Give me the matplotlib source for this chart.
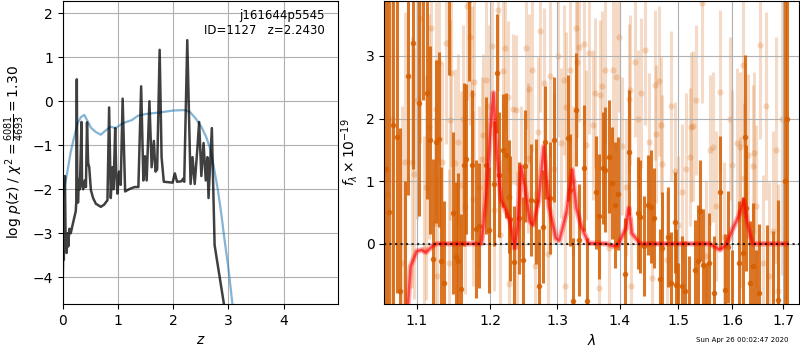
import numpy as np
import matplotlib
matplotlib.use("Agg")
import matplotlib.pyplot as plt

# ---- p(z) panel ----
z_fine = [0.0, 0.01, 0.02, 0.03, 0.04, 0.05, 0.06, 0.07, 0.09, 0.10, 0.12, 0.145, 0.19, 0.236,
          0.245, 0.255, 0.265, 0.28, 0.29, 0.31, 0.34, 0.35, 0.37, 0.40, 0.42, 0.44, 0.46, 0.48,
          0.51, 0.55, 0.60, 0.69, 0.75, 0.81, 0.84, 0.87, 0.90, 0.92, 0.95, 0.97, 0.99, 1.02,
          1.05, 1.085, 1.13, 1.20, 1.30, 1.37, 1.42, 1.46, 1.49, 1.52, 1.57, 1.61, 1.65, 1.68,
          1.71, 1.755, 1.79, 1.83, 1.99, 2.03, 2.07, 2.15, 2.18, 2.20, 2.255, 2.315, 2.35, 2.39,
          2.44, 2.47, 2.51, 2.55, 2.59, 2.62, 2.64, 2.70, 2.75, 2.93]
lnp_fine = [-4.1, -3.3, -3.6, -2.5, -1.7, -2.9, -3.4, -3.45, -3.0, -3.3, -2.9, -3.0, -2.75, -2.5,
            -2.3, 0.5, -2.3, -2.3, -1.77, -2.0, -0.47, -1.9, -2.0, -1.8, -1.95, -0.48, -1.4, -1.5,
            -2.02, -2.2, -2.33, -2.40, -2.35, -2.25, -0.14, -2.2, -1.5, -2.0, -0.61, -1.7, -2.1, -1.6,
            -1.9, 0.06, -2.05, -2.0, -1.95, -1.95, 0.34, -1.8, -1.25, -1.8, 0.0, -1.5, -0.9, -1.6,
            -1.55, 1.17, -1.27, -1.83, -1.85, -1.64, -1.83, -1.82, -1.76, -1.83, 1.39, -1.88, -1.27, -1.88,
            -1.04, -0.47, -1.7, -0.95, -1.8, -1.27, -2.2, -0.61, -3.27, -4.7]

z_prior = [0.0, 0.03, 0.085, 0.145, 0.2, 0.27, 0.33, 0.39, 0.45, 0.51, 0.6, 0.69, 0.78, 0.87,
           0.96, 1.05, 1.15, 1.25, 1.36, 1.5, 1.78, 2.0, 2.2, 2.3, 2.4, 2.51, 2.6, 2.66, 2.73,
           2.81, 2.87, 2.93, 3.0, 3.05, 3.08]
lnp_prior = [-2.3, -1.95, -1.6, -1.15, -0.85, -0.5, -0.36, -0.31, -0.45, -0.6, -0.7, -0.76, -0.66, -0.58,
             -0.61, -0.53, -0.47, -0.43, -0.33, -0.29, -0.25, -0.21, -0.2, -0.24, -0.38, -0.58, -0.82, -1.04, -1.45,
             -2.02, -2.55, -3.15, -3.8, -4.35, -4.7]

# ---- spectrum panel ----
wave_dark = [1.061, 1.065, 1.070, 1.075, 1.078, 1.085, 1.089, 1.095, 1.103, 1.108, 1.114, 1.118,
             1.122, 1.126, 1.130, 1.132, 1.136, 1.143, 1.149, 1.152, 1.155, 1.160, 1.1635, 1.166,
             1.170, 1.175, 1.180, 1.184, 1.195, 1.199, 1.206, 1.210, 1.213, 1.219, 1.223, 1.227,
             1.229, 1.235, 1.242, 1.248, 1.251, 1.260, 1.268, 1.272, 1.278, 1.281, 1.288, 1.294,
             1.316, 1.319, 1.3245, 1.329, 1.333, 1.3415, 1.346, 1.361, 1.365, 1.372, 1.376, 1.3815,
             1.387, 1.3925, 1.397, 1.409, 1.415, 1.431, 1.4345, 1.440, 1.4475, 1.453, 1.458, 1.4675,
             1.4716, 1.482, 1.488, 1.494, 1.496, 1.500, 1.507, 1.513, 1.520, 1.531, 1.537, 1.540,
             1.546, 1.550, 1.557, 1.566, 1.577, 1.586, 1.592, 1.600, 1.613, 1.620, 1.625, 1.627,
             1.634, 1.639, 1.645, 1.652, 1.667, 1.680, 1.690, 1.704, 1.707]
flux_dark = [1.2, 0.5, 1.9, 1.71, -0.75, -1.5, 2.68, 3.2, 2.25, 4.3, 2.41, 1.66,
             -0.24, 1.63, 1.67, -0.28, -0.62, 4.2, 0.49, -0.21, -0.27, -0.72, 1.26, 1.35,
             3.9, 1.26, 0.23, 0.29, 1.25, 0.22, 0.96, 2.72, 1.10, 1.49, 1.41, 0.75,
             0.40, -0.29, 0.41, -0.26, 1.24, 0.70, 0.68, -0.67, 0.27, 1.62, 0.73, 1.66,
             1.69, 0.86, -0.91, 2.14, 0.06, 1.21, -0.91, 0.82, 0.44, 1.21, 1.18, 1.39,
             0.97, 0.62, 0.80, -0.49, 1.46, 0.49, 0.43, -0.04, 0.62, 0.59, 0.41, -0.56,
             -0.07, 0.11, -0.62, 0.34, -0.66, -1.2, -0.68, -0.75, -1.1, -0.42, -0.28, 0.53,
             -0.34, -1.3, -0.31, -0.78, 0.82, -0.74, -0.05, -1.1, -0.31, -0.15, 1.71, 0.57,
             -0.63, -0.35, -1.2, -0.78, -1.0, -1.3, -0.9, 1.0, 2.0]
err_dark = [6.0, 6.0, 5.0, 2.5, 2.6, 2.5, 1.9, 2.0, 1.8, 2.0, 1.7, 1.5,
            1.6, 1.3, 1.4, 1.5, 1.3, 1.5, 1.3, 1.2, 1.4, 1.2, 1.3, 1.2,
            1.3, 1.2, 1.1, 1.0, 1.1, 1.0, 1.0, 0.95, 1.0, 0.9, 1.0, 0.9,
            1.0, 0.9, 0.9, 1.0, 0.9, 0.9, 1.0, 0.9, 0.9, 0.9, 0.9, 1.0,
            1.0, 0.9, 1.0, 0.9, 0.9, 1.0, 1.0, 0.9, 1.0, 0.9, 1.0, 0.9,
            0.9, 1.0, 0.9, 0.9, 1.0, 0.9, 0.9, 0.8, 0.8, 0.9, 0.8, 0.8,
            0.9, 0.8, 0.8, 0.8, 0.9, 0.9, 0.8, 0.8, 0.9, 0.8, 0.9, 0.8,
            0.9, 1.0, 0.8, 0.9, 0.9, 0.9, 0.9, 1.0, 1.0, 0.9, 1.3, 1.0,
            1.0, 1.0, 1.1, 1.1, 1.3, 1.5, 1.6, 8.0, 8.0]

wave_light = [1.062, 1.068, 1.081, 1.085, 1.094, 1.096, 1.104, 1.109, 1.116, 1.119, 1.125, 1.1245,
              1.127, 1.130, 1.143, 1.145, 1.146, 1.151, 1.155, 1.159, 1.165, 1.168, 1.175, 1.176,
              1.178, 1.189, 1.1905, 1.194, 1.203, 1.206, 1.212, 1.214, 1.218, 1.221, 1.2255, 1.228,
              1.233, 1.237, 1.239, 1.2526, 1.255, 1.2574, 1.261, 1.266, 1.270, 1.280, 1.285, 1.288,
              1.306, 1.3095, 1.311, 1.314, 1.320, 1.329, 1.330, 1.333, 1.3415, 1.345, 1.350, 1.359,
              1.365, 1.368, 1.3706, 1.375, 1.3815, 1.388, 1.394, 1.404, 1.416, 1.4176, 1.418, 1.4306,
              1.435, 1.4486, 1.454, 1.460, 1.461, 1.470, 1.4716, 1.480, 1.495, 1.500, 1.507, 1.5215,
              1.524, 1.5276, 1.532, 1.543, 1.550, 1.559, 1.564, 1.577, 1.585, 1.600, 1.608, 1.6145,
              1.615, 1.621, 1.6215, 1.631, 1.6405, 1.642, 1.653, 1.660, 1.671, 1.680, 1.690,
              1.100, 1.112, 1.134, 1.139, 1.162, 1.172, 1.185, 1.199, 1.245, 1.274, 1.295, 1.301,
              1.325, 1.356, 1.398, 1.410, 1.425, 1.443, 1.466, 1.487, 1.515, 1.570, 1.595, 1.645,
              1.665, 1.685, 1.697]
flux_light = [0.8, 2.0, -0.3, 1.3, 1.30, 1.12, 3.61, -0.08, 1.87, 3.44, 2.16, 0.33,
              -0.51, 2.91, -0.31, 1.98, 2.73, 1.29, 1.63, 0.94, 0.59, 3.80, 2.39, 0.72,
              2.59, 1.36, 1.73, 2.62, 3.16, 0.54, 3.74, 0.14, 2.76, 3.13, 2.35, -0.65,
              2.15, 2.14, -0.04, 3.13, 1.37, 2.47, 2.78, -0.35, 1.78, 2.57, -0.16, 2.68,
              1.61, 2.62, -0.67, 2.18, 2.78, 3.44, 2.90, 3.15, 3.19, 1.58, 3.05, 2.41,
              -0.71, 2.38, 2.52, 2.77, -0.07, 2.77, 2.66, 1.56, 2.31, 2.46, -0.67, 2.00,
              2.41, 1.62, -0.55, 2.54, 1.75, 1.89, 1.27, -0.26, 1.16, 0.3, 0.82, 1.39,
              1.87, 1.88, 2.30, 3.85, -0.2, 1.50, 1.55, 2.43, 0.1, 1.25, 1.61, 1.55,
              0.5, 2.86, 1.05, 1.41, 1.24, 1.45, 3.18, -0.3, -0.52, 0.2, -0.75,
              2.3, 0.9, 1.3, 3.2, 2.0, 3.3, 0.9, 2.2, 1.0, 3.4, 1.2, 3.0,
              1.0, 1.9, 3.3, 0.9, 2.9, 3.1, 2.6, 2.2, 1.2, 0.6, 2.0, 0.6,
              2.2, 1.5, 2.0]
err_light = [5.0, 5.0, 2.5, 2.4, 2.0, 2.0, 2.0, 1.8, 1.8, 1.8, 1.7, 1.7,
             1.6, 1.6, 1.5, 1.6, 1.5, 1.5, 1.4, 1.5, 1.4, 1.5, 1.4, 1.4,
             1.3, 1.3, 1.3, 1.3, 1.3, 1.3, 1.3, 1.2, 1.2, 1.3, 1.2, 1.2,
             1.2, 1.2, 1.2, 1.3, 1.2, 1.2, 1.3, 1.2, 1.2, 1.2, 1.2, 1.3,
             1.2, 1.2, 1.2, 1.2, 1.2, 1.3, 1.2, 1.2, 1.3, 1.2, 1.3, 1.2,
             1.2, 1.2, 1.2, 1.2, 1.1, 1.2, 1.2, 1.1, 1.2, 1.2, 1.1, 1.1,
             1.2, 1.1, 1.1, 1.2, 1.1, 1.1, 1.1, 1.1, 1.1, 1.1, 1.1, 1.1,
             1.2, 1.2, 1.2, 1.6, 1.2, 1.2, 1.2, 1.3, 1.2, 1.2, 1.2, 1.2,
             1.2, 1.3, 1.2, 1.3, 1.3, 1.3, 1.5, 1.4, 1.5, 1.6, 1.7,
             1.9, 1.8, 1.6, 1.6, 1.5, 1.4, 1.3, 1.3, 1.2, 1.3, 1.2, 1.3,
             1.2, 1.2, 1.2, 1.1, 1.2, 1.2, 1.2, 1.2, 1.2, 1.2, 1.3, 1.3,
             1.5, 1.8, 2.5]

wave_model = [1.086, 1.089, 1.092, 1.100, 1.1065, 1.112, 1.1196, 1.126, 1.188, 1.194, 1.201, 1.205,
              1.210, 1.2158, 1.223, 1.229, 1.2355, 1.240, 1.245, 1.2505, 1.258, 1.263, 1.2715, 1.279,
              1.287, 1.2976, 1.303, 1.3138, 1.323, 1.3296, 1.3375, 1.349, 1.378, 1.3893, 1.397, 1.410,
              1.415, 1.420, 1.434, 1.558, 1.563, 1.5767, 1.588, 1.600, 1.612, 1.622, 1.629, 1.639,
              1.705]
flux_model = [-1.3, -0.92, -0.36, -0.12, -0.10, -0.14, -0.05, 0.0, 0.0, 0.70, 1.87, 2.41,
              1.40, 0.70, 0.52, 0.36, -0.07, 0.28, 1.24, 0.92, 0.36, 0.30, 0.70, 1.55,
              0.60, 0.09, 0.05, 0.49, 1.18, 0.57, 0.27, 0.01, 0.0, -0.04, -0.02, 0.25,
              0.57, 0.17, 0.0, 0.0, -0.03, -0.10, -0.02, 0.22, 0.44, 0.70, 0.33, 0.0,
              0.0]

wave_ticks = [1.1, 1.2, 1.3, 1.4, 1.5, 1.6, 1.7]
grism_color = (0.8352941176470589, 0.3686274509803922, 0.0)

fig = plt.figure(figsize=(8, 3.5), dpi=100)

# p(z)
ax = fig.add_axes([0.0784, 0.1314, 0.3445, 0.8657])
ax.plot(z_prior, lnp_prior, color='tab:blue', alpha=0.55, lw=1.6)
ax.plot(z_fine, lnp_fine, color='k', alpha=0.75, lw=1.8)
ax.set_xlim(0, 4.99)
ax.set_ylim(-4.61, 2.28)
ax.set_xticks([0, 1, 2, 3, 4])
ax.set_yticks([-4, -3, -2, -1, 0, 1, 2])
ax.grid()
ax.set_xlabel(r'$z$')
ax.set_ylabel(r'log $p(z)$ / $\chi^2=\frac{6081}{4693}=1.30$')
ax.text(0.95, 0.975, 'j161644p5545\nID=1127   z=2.2430', transform=ax.transAxes,
        ha='right', va='top', fontsize=8.5)

# spectrum
ax2 = fig.add_axes([0.4804, 0.1314, 0.5184, 0.8657])
ax2.errorbar(wave_light, flux_light, yerr=err_light, fmt='o', color=grism_color,
             alpha=0.22, ms=4.5, mec='none', elinewidth=2.2, capsize=0, zorder=1)
ax2.errorbar(wave_dark, flux_dark, yerr=err_dark, fmt='o', color=grism_color,
             alpha=0.85, ms=4, mec='none', elinewidth=2.2, capsize=0, zorder=2)
ax2.plot(wave_model, flux_model, color='r', alpha=0.3, lw=4, zorder=3)
ax2.plot(wave_model, flux_model, color='r', alpha=0.6, lw=1.8, zorder=4)
ax2.axhline(0, color='k', ls=':', lw=1.5, alpha=0.8, zorder=5)
ax2.set_xscale('log')
ax2.set_xlim(1.0585, 1.7319)
ax2.set_ylim(-0.963, 3.877)
ax2.set_xticks(wave_ticks)
ax2.set_xticklabels([str(w) for w in wave_ticks])
ax2.xaxis.set_minor_locator(matplotlib.ticker.NullLocator())
ax2.set_yticks([0, 1, 2, 3])
ax2.grid()
ax2.set_xlabel(r'$\lambda$')
ax2.set_ylabel(r'$f_\lambda \times 10^{-19}$')

fig.text(0.985, 0.028, 'Sun Apr 26 00:02:47 2020', ha='right', va='center', fontsize=5)

fig.savefig('out.png', dpi=100)
